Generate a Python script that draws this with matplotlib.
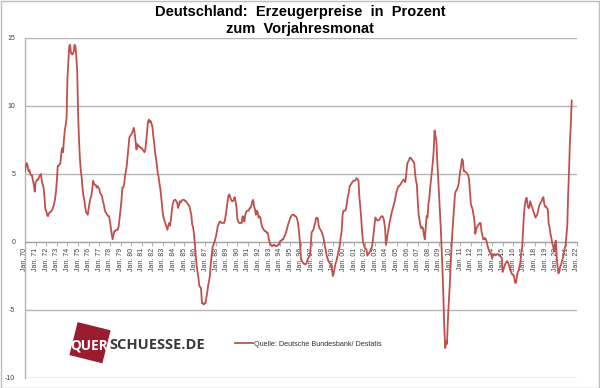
import numpy as np
import matplotlib
matplotlib.use("Agg")
import matplotlib.pyplot as plt
from matplotlib.patches import Polygon, Rectangle

# Erzeugerpreise, Veränderung zum Vorjahresmonat in %, monatlich ab Jan. 1970
ppi_1970s = [
    5.2, 5.6, 5.8, 5.6, 5.2, 5.3, 5.0, 4.9, 4.9, 4.5, 4.2, 3.7,
    4.4, 4.5, 4.6, 4.6, 4.8, 4.9, 5.0, 4.5, 4.2, 4.0, 3.3, 2.4,
    2.3, 2.0, 1.9, 2.1, 2.2, 2.2, 2.3, 2.4, 2.6, 2.8, 3.2, 3.7,
    4.5, 5.6, 5.6, 5.7, 5.8, 6.5, 6.9, 6.6, 7.5, 8.2, 8.6, 9.1,
    12.1, 13.2, 14.4, 14.5, 13.9, 13.8, 13.8, 14.0, 14.5, 14.4, 13.6, 12.6,
    9.5, 7.6, 6.2, 5.3, 4.8, 4.0, 3.4, 3.1, 2.6, 2.2, 2.1, 2.0,
    2.5, 2.9, 3.2, 3.4, 3.9, 4.5, 4.3, 4.2, 4.2, 4.0, 4.1, 4.0,
    3.9, 3.6, 3.5, 3.4, 3.0, 2.8, 2.4, 2.2, 2.1, 2.0, 1.9, 1.9,
    1.5, 1.1, 0.6, 0.2, 0.5, 0.8, 0.8, 0.9, 0.9, 0.9, 1.2, 1.8,
    2.4, 3.0, 4.0, 4.0, 4.2, 4.8, 5.2, 5.6, 6.3, 7.0, 7.7, 7.8,
]
ppi_1980s = [
    7.9, 8.0, 8.2, 8.4, 8.0, 7.4, 6.8, 7.2, 7.1, 7.0, 7.0, 6.9,
    6.9, 6.8, 6.7, 6.6, 6.8, 7.4, 8.1, 8.8, 9.0, 8.8, 8.9, 8.7,
    8.5, 7.8, 7.3, 6.6, 6.2, 5.7, 5.1, 4.8, 4.3, 3.9, 3.3, 2.6,
    2.0, 1.7, 1.5, 1.3, 1.1, 0.9, 1.2, 1.4, 1.2, 1.7, 2.3, 2.8,
    3.0, 3.1, 3.1, 3.0, 2.9, 2.5, 2.7, 3.0, 2.9, 3.0, 3.1, 3.1,
    3.1, 3.0, 3.0, 2.9, 2.8, 2.7, 2.6, 2.3, 2.0, 1.3, 1.1, 0.6,
    -0.2, -0.9, -1.7, -2.2, -2.6, -3.2, -3.3, -3.4, -4.5, -4.5, -4.6, -4.5,
    -4.5, -4.1, -3.7, -3.2, -2.9, -2.5, -1.6, -1.0, -0.4, -0.2, -0.05, 0.2,
    0.45, 0.8, 1.2, 1.3, 1.5, 1.5, 1.4, 1.4, 1.4, 1.4, 1.6, 2.0,
    2.5, 3.0, 3.4, 3.5, 3.3, 3.1, 3.0, 3.0, 3.1, 3.3, 3.0, 2.6,
]
ppi_1990s = [
    1.7, 1.5, 1.4, 1.4, 1.4, 1.4, 1.9, 1.8, 1.5, 2.0, 2.2, 2.3,
    2.3, 2.3, 2.5, 2.5, 2.7, 3.0, 3.1, 2.6, 2.4, 2.0, 2.3, 2.2,
    1.8, 1.9, 1.8, 1.4, 1.1, 1.0, 0.9, 0.8, 0.8, 0.7, 0.7, 0.5,
    0.1, -0.1, -0.2, -0.3, -0.3, -0.2, -0.2, -0.3, -0.3, -0.3, -0.2, -0.2,
    0.0, 0.1, 0.1, 0.2, 0.2, 0.4, 0.5, 0.7, 0.9, 1.2, 1.4, 1.6,
    1.8, 1.9, 2.0, 2.0, 2.0, 1.9, 1.9, 1.8, 1.6, 1.2, 0.6, -0.2,
    -1.2, -1.4, -1.5, -1.6, -1.6, -1.65, -1.6, -1.4, -1.2, -1.1, -1.0, -0.3,
    0.7, 0.8, 0.9, 1.2, 1.4, 1.75, 1.8, 1.7, 1.2, 1.0, 0.9, 0.8,
    0.6, 0.44, 0.07, -0.3, -0.6, -1.0, -1.2, -1.4, -1.5, -1.6, -1.65, -2.0,
    -2.5, -2.3, -1.9, -1.6, -1.4, -1.1, -0.8, -0.5, -0.2, 0.4, 0.8, 2.0,
]
ppi_2000s = [
    2.3, 2.3, 2.3, 2.5, 2.9, 3.4, 3.6, 4.1, 4.2, 4.3, 4.4, 4.5,
    4.5, 4.5, 4.6, 4.7, 4.6, 4.5, 3.3, 2.6, 1.8, 0.8, 0.07, -0.2,
    -0.4, -0.5, -0.55, -1.0, -0.9, -0.8, -0.7, -0.5, -0.4, 0.0, 0.56, 1.2,
    1.8, 1.7, 1.6, 1.6, 1.6, 1.7, 1.8, 1.9, 1.9, 1.8, 1.5, 1.05,
    -0.2, 0.2, 0.56, 1.0, 1.4, 1.7, 2.0, 2.3, 2.5, 2.8, 3.0, 3.4,
    3.7, 3.9, 4.1, 4.1, 4.2, 4.3, 4.4, 4.5, 4.6, 4.5, 4.4, 5.0,
    5.7, 5.9, 6.0, 6.2, 6.2, 6.1, 6.0, 5.9, 5.8, 5.0, 4.5, 4.2,
    3.0, 2.0, 1.6, 1.2, 1.0, 1.1, 1.0, 0.5, 0.2, 1.0, 1.9, 1.8,
    2.8, 3.2, 4.0, 4.6, 5.2, 5.9, 6.7, 8.2, 7.8, 7.5, 6.0, 4.8,
    3.75, 2.4, 1.05, -0.5, -2.15, -4.1, -6.3, -7.8, -7.3, -7.5, -5.8, -4.5,
]
ppi_2010s = [
    -3.4, -1.9, -0.5, 0.6, 1.5, 2.5, 3.5, 3.75, 3.8, 4.0, 4.2, 4.7,
    5.2, 5.6, 6.1, 6.0, 5.2, 5.2, 5.15, 5.1, 5.0, 4.9, 4.6, 3.7,
    2.8, 2.6, 2.4, 2.0, 1.6, 0.6, 0.9, 1.1, 1.2, 1.3, 1.4, 1.4,
    0.8, 0.5, 0.2, 0.2, 0.3, 0.2, 0.0, -0.3, -0.54, -0.7, -0.8, -0.9,
    -1.2, -1.0, -0.9, -0.9, -1.0, -0.9, -0.9, -0.9, -1.0, -1.0, -1.1, -1.2,
    -2.2, -2.0, -1.8, -1.6, -1.5, -1.4, -1.5, -1.7, -1.9, -2.1, -2.3, -2.4,
    -2.4, -2.6, -3.0, -3.0, -2.6, -2.2, -2.1, -1.8, -1.5, -0.8, -0.4, 0.8,
    2.0, 2.7, 3.1, 3.25, 2.8, 2.5, 2.5, 3.0, 2.8, 2.6, 2.4, 2.2,
    2.0, 1.8, 1.9, 2.0, 2.3, 2.6, 2.8, 2.9, 3.0, 3.2, 3.3, 2.8,
    2.6, 2.6, 2.5, 2.4, 1.3, 1.1, 0.6, 0.3, -0.1, -0.3, -0.7, -0.2,
]
ppi_2020s = [
    0.1, -1.0, -1.8, -2.3, -2.2, -1.8, -1.7, -1.4, -1.2, -0.9, -0.5, -0.3,
    0.5, 1.2, 3.5, 5.2, 7.4, 8.6, 10.4,
]

tick_years = list(range(1970, 2023))
tick_labels = [f"Jan. {y % 100:02d}" for y in tick_years]
y_ticks = [-10, -5, 0, 5, 10, 15]

title_line1 = "Deutschland:  Erzeugerpreise  in  Prozent"
title_line2 = "zum  Vorjahresmonat"
legend_label = "Quelle: Deutsche Bundesbank/ Destatis"

values = np.array(ppi_1970s + ppi_1980s + ppi_1990s + ppi_2000s + ppi_2010s + ppi_2020s)
t = 1970 + np.arange(len(values)) / 12.0

W, H = 600, 388
fig = plt.figure(figsize=(W / 100, H / 100), dpi=100)
fig.patch.set_facecolor("white")

ax = fig.add_axes([25 / W, 1 - 378 / H, (577 - 25) / W, (378 - 38) / H])
ax.set_facecolor("white")

# spine placement first (it resets tick properties)
ax.spines["bottom"].set_position(("data", 0))
ax.spines["bottom"].set_color("#a0a0a0")
ax.spines["bottom"].set_linewidth(0.8)
ax.spines["left"].set_color("#b5b5b5")
ax.spines["left"].set_linewidth(1.0)
ax.spines["top"].set_visible(False)
ax.spines["right"].set_visible(False)

line, = ax.plot(t, values, color="#c0504d", lw=1.3, label=legend_label, zorder=3)

ax.set_xlim(1970, 2022)
ax.set_ylim(-10, 15)
ax.set_yticks(y_ticks)
ax.set_yticklabels([str(v) for v in y_ticks])
ax.tick_params(axis="y", length=0, pad=7, labelsize=5, labelcolor="#404040")
ax.yaxis.grid(True, color="#b5b5b5", lw=1.0)
ax.set_axisbelow(True)

ax.set_xticks(tick_years)
ax.set_xticklabels(tick_labels)
ax.tick_params(axis="x", length=3, width=0.6, color="#a0a0a0", pad=1,
               direction="out", labelsize=5, labelcolor="#404040", labelrotation=90)
for lab in ax.get_xticklabels() + ax.get_yticklabels():
    lab.set_family("Liberation Sans")

# Title
fig.text(0.5, 1 - 12 / H, title_line1, ha="center", va="center", fontsize=10.5,
         fontweight="bold", family="Liberation Sans", color="black")
fig.text(0.5, 1 - 29 / H, title_line2, ha="center", va="center", fontsize=10.5,
         fontweight="bold", family="Liberation Sans", color="black")

# Legend
leg = ax.legend(handles=[line], loc="center left",
                bbox_to_anchor=(235 / W, 1 - 344 / H), bbox_transform=fig.transFigure,
                frameon=False, borderpad=0, borderaxespad=0,
                handlelength=2.5, handletextpad=0.2,
                prop={"family": "Liberation Sans", "size": 5.2})
for txt in leg.get_texts():
    txt.set_color("#303030")

# Logo
cx, cy, side, ang = 90.0, 342.7, 34.0, np.deg2rad(-14)
half = side / 2
corners = np.array([[-half, -half], [half, -half], [half, half], [-half, half]])
rot = np.array([[np.cos(ang), -np.sin(ang)], [np.sin(ang), np.cos(ang)]])
pts = corners @ rot.T
pts[:, 0] += cx
pts[:, 1] = (H - cy) + pts[:, 1]
pts_fig = np.column_stack([pts[:, 0] / W, pts[:, 1] / H])
fig.patches.append(Polygon(pts_fig, closed=True, transform=fig.transFigure,
                           facecolor="#9b1c2e", edgecolor="none", zorder=5))
fig.text(70 / W, 1 - 349 / H, "QUER", ha="left", va="baseline", fontsize=9.8,
         fontweight="bold", family="Open Sans", color="white", zorder=6)
fig.text(109 / W, 1 - 349 / H, "SCHUESSE.DE", ha="left", va="baseline", fontsize=10.5,
         fontweight="bold", family="Open Sans", color="#3a3a3a", zorder=6)

# Outer border
fig.patches.append(Rectangle((0.5 / W, 0.5 / H), 1 - 1.5 / W, 1 - 1.5 / H,
                             transform=fig.transFigure, fill=False,
                             edgecolor="#bdbdbd", lw=1.0, zorder=10))

fig.savefig("out.png", dpi=100, facecolor="white")
